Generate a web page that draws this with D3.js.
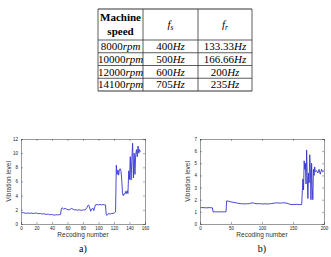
<!DOCTYPE html>
<html><head><meta charset="utf-8">
<script src="https://cdn.jsdelivr.net/npm/d3@7"></script>
<style>html,body{margin:0;padding:0;background:#fff}svg{display:block}</style>
</head><body>
<svg id="c" width="331" height="257"></svg>
<script>
// ---- table data ----
const speeds = ["8000", "10000", "12000", "14100"];
const fsVals = ["400", "500", "600", "705"];
const frVals = ["133.33", "166.66", "200", "235"];

// ---- plot a) data: [recording number, vibration level] ----
const seriesA = [
 [1,1.6],[3,1.6],[5,1.55],[7,1.5],[9,1.55],[11,1.5],[13,1.55],[15,1.5],[17,1.5],[19,1.55],[21,1.5],[23,1.45],
 [25,1.5],[27,1.4],[29,1.45],[31,1.4],[33,1.35],[35,1.4],[37,1.3],[39,1.35],[41,1.3],[43,1.25],[45,1.3],[47,1.3],
 [49,1.3],[51,1.35],[52,2.1],[53,2.3],[55,2.1],[57,2.2],[59,2.1],[61,2.0],[63,2.05],[65,2.2],[67,2.1],[69,2.0],
 [71,2.0],[73,1.95],[75,2.0],[77,1.95],[79,1.95],[81,2.0],[83,2.0],[85,2.3],[87,2.7],[88,2.5],[90,1.8],[91,2.1],
 [93,2.2],[94,1.9],[96,2.7],[98,2.75],[100,2.7],[102,2.75],[104,2.7],[106,2.75],[108,2.7],[109,2.7],[110,1.3],
 [111,1.2],[113,1.5],[115,1.4],[117,1.5],[119,1.5],[121,1.6],[122,1.7],[123,8.3],[124,7.0],[125,7.6],[126,6.9],
 [127,7.7],[128,7.8],[129,7.5],[130,6.2],[131,4.3],[132,4.0],[133,4.3],[134,4.2],[135,4.6],[136,4.3],[137,4.7],
 [138,4.3],[139,7.5],[140,6.3],[141,9.5],[142,6.2],[143,9.0],[144,11.4],[145,6.5],[146,10.0],[147,7.0],[148,9.8],
 [149,10.5],[150,9.5],[151,11.0],[152,10.0],[153,10.5],[154,10.2]
];
// ---- plot b) data ----
const seriesB = [
 [1,1.35],[5,1.35],[10,1.33],[15,1.35],[20,1.33],[21,1.0],[25,1.0],[30,1.0],[35,1.0],[40,1.0],[42,1.0],[43,1.9],
 [46,1.88],[50,1.82],[55,1.78],[60,1.72],[65,1.68],[70,1.66],[75,1.66],[80,1.68],[84,1.75],[88,1.7],[92,1.66],
 [96,1.68],[100,1.65],[105,1.66],[110,1.65],[115,1.68],[120,1.72],[125,1.74],[130,1.72],[135,1.75],[140,1.72],
 [145,1.62],[150,1.6],[155,1.62],[160,1.6],[164,1.6],[166,3.7],[167,2.8],[168,5.2],[169,4.5],[170,5.0],[171,3.3],
 [172,6.1],[173,4.0],[174,2.1],[175,4.2],[176,3.4],[177,5.7],[178,4.6],[179,2.0],[180,5.0],[181,3.0],[182,2.0],
 [183,4.5],[184,4.0],[185,4.7],[186,4.3],[188,4.4],[190,4.2],[192,4.5],[194,4.1],[196,4.5],[198,4.3],[200,4.4]
];
const ticksA_x = [0,20,40,60,80,100,120,140,160];
const ticksA_y = [0,2,4,6,8,10,12];
const ticksB_x = [0,50,100,150,200];
const ticksB_y = [0,1,2,3,4,5,6,7];

const svg = d3.select("#c");
const serif = "'Liberation Serif','DejaVu Serif',serif";
const sans = "'Liberation Sans','DejaVu Sans',sans-serif";

// ---------- table ----------
const colX = [98, 143, 198, 252];
const rowY = [9, 40, 52.75, 65.5, 78.25, 91];
const tg = svg.append("g");
// horizontal lines
rowY.forEach((y,i)=>{
  tg.append("line").attr("x1",colX[0]).attr("x2",colX[3]).attr("y1",y).attr("y2",y)
    .attr("stroke","#333").attr("stroke-width", (i===0||i===rowY.length-1)?1.2:0.8);
});
colX.forEach(x=>{
  tg.append("line").attr("x1",x).attr("x2",x).attr("y1",rowY[0]).attr("y2",rowY[rowY.length-1])
    .attr("stroke","#333").attr("stroke-width",0.8);
});
const cx = i => (colX[i]+colX[i+1])/2;
tg.append("text").attr("x",cx(0)).attr("y",21).attr("text-anchor","middle")
  .attr("font-family",serif).attr("font-weight","bold").attr("font-size",11).text("Machine");
tg.append("text").attr("x",cx(0)).attr("y",35).attr("text-anchor","middle")
  .attr("font-family",serif).attr("font-weight","bold").attr("font-size",11).text("speed");
function fsym(x, sub){
  const t = tg.append("text").attr("x",x).attr("y",28).attr("text-anchor","middle")
    .attr("font-family",serif).attr("font-size",11);
  t.append("tspan").attr("font-style","italic").text("f");
  t.append("tspan").attr("font-style","italic").attr("font-size",7.5).attr("dy",2).text(sub);
}
fsym(cx(1),"s"); fsym(cx(2),"r");
function cell(i, r, num, unit){
  const y = (rowY[r+1]+rowY[r+2])/2 + 3.8;
  const t = tg.append("text").attr("x",cx(i)).attr("y",y).attr("text-anchor","middle")
    .attr("font-family",serif).attr("font-size",11);
  t.append("tspan").text(num);
  t.append("tspan").attr("font-style","italic").text(unit);
}
speeds.forEach((s,r)=>cell(0,r,s,"rpm"));
fsVals.forEach((s,r)=>cell(1,r,s,"Hz"));
frVals.forEach((s,r)=>cell(2,r,s,"Hz"));

// ---------- plots ----------
function plot(x0, x1, y0, y1, xDom, yDom, xt, yt, data, cap){
  const g = svg.append("g");
  const x = d3.scaleLinear().domain(xDom).range([x0,x1]);
  const y = d3.scaleLinear().domain(yDom).range([y1,y0]);
  const tl = 2;
  // ticks inward on all four sides
  g.append("g").attr("transform",`translate(0,${y1})`)
    .call(d3.axisBottom(x).tickValues(xt).tickSize(-tl).tickPadding(3).tickFormat(d3.format("d")));
  g.append("g").attr("transform",`translate(0,${y0})`)
    .call(d3.axisTop(x).tickValues(xt).tickSize(-tl).tickFormat(""));
  g.append("g").attr("transform",`translate(${x0},0)`)
    .call(d3.axisLeft(y).tickValues(yt).tickSize(-tl).tickPadding(3).tickFormat(d3.format("d")));
  g.append("g").attr("transform",`translate(${x1},0)`)
    .call(d3.axisRight(y).tickValues(yt).tickSize(-tl).tickFormat(""));
  g.selectAll(".domain").attr("stroke","#555").attr("stroke-width",0.6);
  g.selectAll(".tick line").attr("stroke","#555").attr("stroke-width",0.5);
  g.selectAll(".tick text").attr("font-family",sans).attr("font-size",4.5).attr("fill","#222");
  const line = d3.line().x(d=>x(d[0])).y(d=>y(d[1]));
  g.append("path").datum(data).attr("d",line).attr("fill","none")
    .attr("stroke","#3535d0").attr("stroke-width",0.9).attr("stroke-linejoin","round");
  const mx = (x0+x1)/2;
  g.append("text").attr("x",mx).attr("y",y1+13).attr("text-anchor","middle")
    .attr("font-family",sans).attr("font-size",6.5).attr("fill","#333").text("Recoding number");
  g.append("text").attr("transform",`translate(${x0-10},${(y0+y1)/2}) rotate(-90)`)
    .attr("text-anchor","middle").attr("font-family",sans).attr("font-size",6.5).attr("fill","#333")
    .text("Vibration level");
  g.append("text").attr("x",mx).attr("y",252).attr("text-anchor","middle")
    .attr("font-family",serif).attr("font-size",10).text(cap);
}
plot(21,145,139,224,[0,160],[0,12],ticksA_x,ticksA_y,seriesA,"a)");
plot(200,324,139,224,[0,200],[0,7],ticksB_x,ticksB_y,seriesB,"b)");
</script>
</body></html>
